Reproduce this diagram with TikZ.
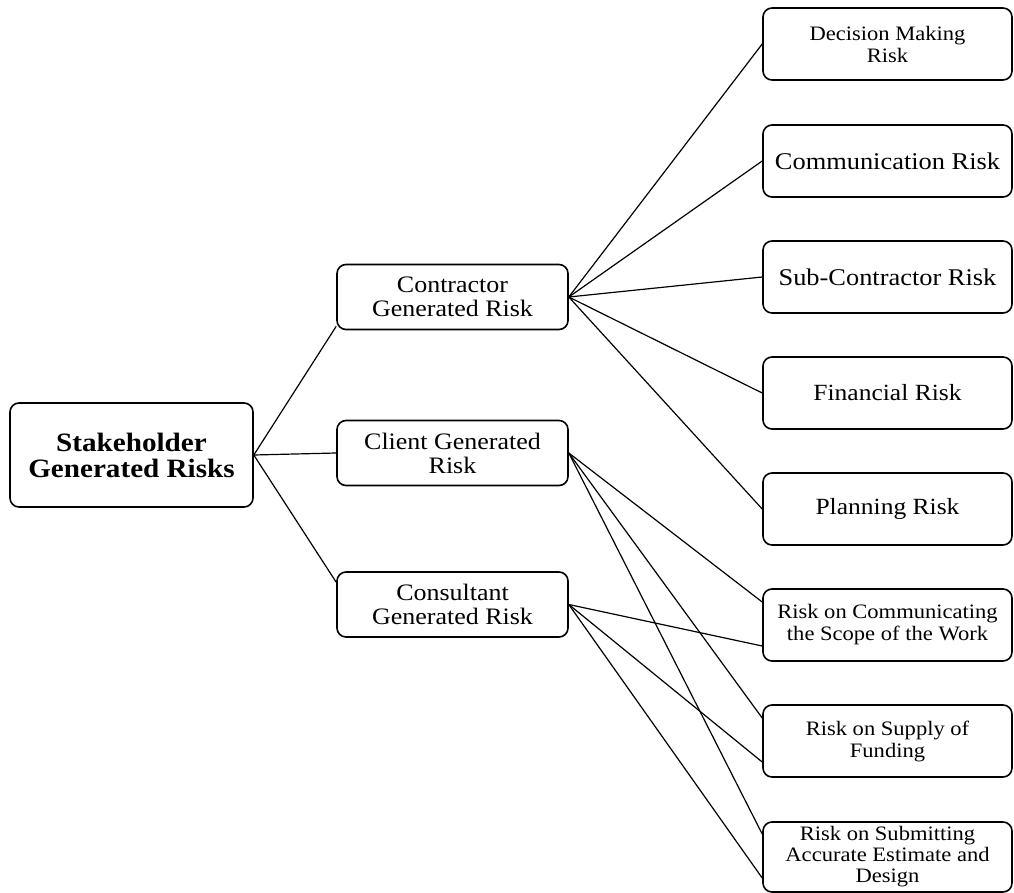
\documentclass[tikz,border=0pt]{standalone}
\usepackage{fontspec}
\setmainfont{Liberation Serif}[FakeStretch=1.1]
\usetikzlibrary{calc}
\begin{document}
\begin{tikzpicture}[x=1pt,y=-1pt,
  box/.style={draw, line width=1.6pt, rounded corners=9pt, align=center,
    inner sep=0pt, text=black},
  rootbox/.style={box, minimum width=243pt, minimum height=104pt,
    font=\fontsize{26.5}{26}\selectfont\bfseries},
  midbox/.style={box, minimum width=231pt, minimum height=65pt,
    font=\fontsize{23.6}{24}\selectfont},
  leafbox/.style={box, minimum width=249pt, minimum height=72pt},
  link/.style={line width=1.2pt}]
\useasboundingbox (0,0) rectangle (1014,893);

% root and second level
\node[rootbox] (root) at (131.5,455) {Stakeholder\\Generated Risks};
\node[midbox] (contr) at (452.5,297) {Contractor\\Generated Risk};
\node[midbox] (client) at (452.5,453) {Client Generated\\Risk};
\node[midbox] (consult) at (452.5,604.5) {Consultant\\Generated Risk};

% leaves
\node[leafbox, font=\fontsize{20.5}{22}\selectfont] (dec) at (887.5,44) {Decision Making\\Risk};
\node[leafbox, font=\fontsize{24}{24}\selectfont] (comm) at (887.5,161) {Communication Risk};
\node[leafbox, font=\fontsize{24}{24}\selectfont] (sub) at (887.5,277) {Sub-Contractor Risk};
\node[leafbox, font=\fontsize{23.2}{24}\selectfont] (fin) at (887.5,393) {Financial Risk};
\node[leafbox, font=\fontsize{23.2}{24}\selectfont] (plan) at (887.5,509) {Planning Risk};
\node[leafbox, font=\fontsize{20.5}{22}\selectfont] (scope) at (887.5,625) {Risk on Communicating\\the Scope of the Work};
\node[leafbox, font=\fontsize{20.5}{22}\selectfont] (fund) at (887.5,741) {Risk on Supply of\\Funding};
\node[leafbox, minimum height=70pt, font=\fontsize{20.5}{21}\selectfont] (est) at (887.5,857) {Risk on Submitting\\Accurate Estimate and\\Design};

% root links
\draw[link] (root.east) -- ([yshift=4pt]contr.south west);
\draw[link] (root.east) -- (client.west);
\draw[link] (root.east) -- ([yshift=-11pt]consult.north west);

% contractor links
\foreach \t in {dec,comm,sub,fin,plan}
  \draw[link] (contr.east) -- (\t.west);

% client and consultant links
\foreach \t in {scope,fund,est} {
  \draw[link] (client.east) -- ([yshift=23pt]\t.west);
  \draw[link] (consult.east) -- ([yshift=-21pt]\t.west);
}
\end{tikzpicture}
\end{document}
